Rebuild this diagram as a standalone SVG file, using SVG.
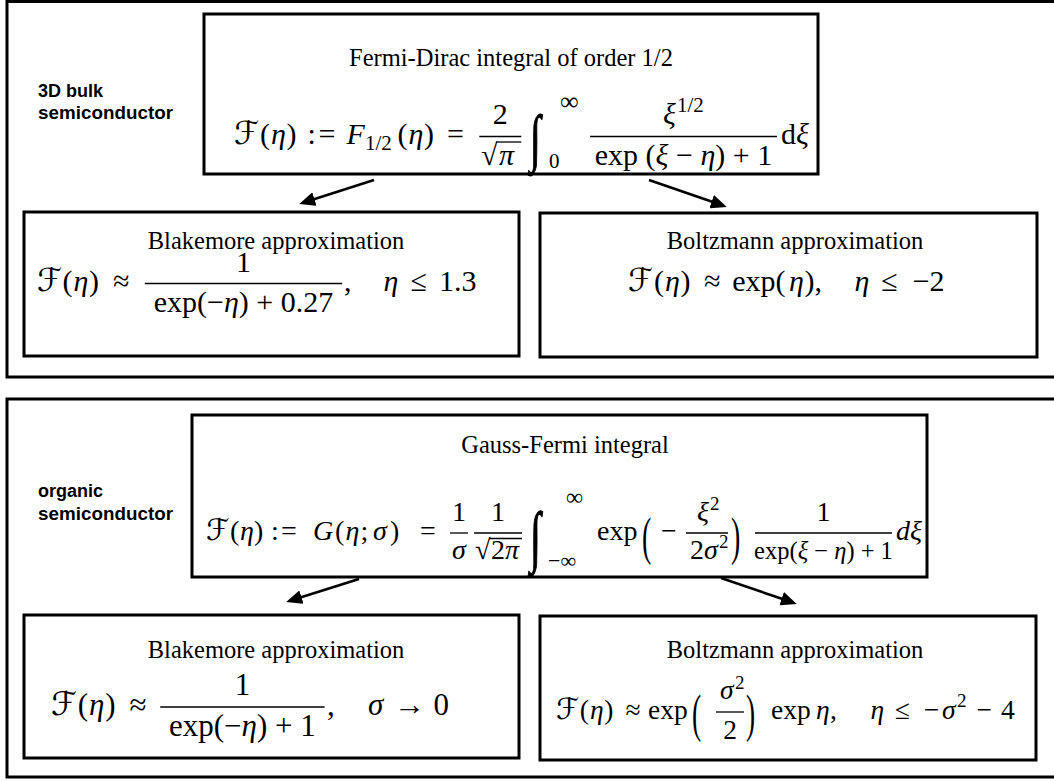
<svg xmlns="http://www.w3.org/2000/svg" width="1054" height="781" viewBox="0 0 1054 781">
<style>
.frame{fill:none;stroke:#000;stroke-width:3}
.box{fill:#fff;stroke:#000;stroke-width:3}
.ttl{font-family:"Liberation Serif","Times New Roman",serif;font-size:24.5px;fill:#000;text-anchor:middle}
.m{font-family:"Liberation Serif","Times New Roman",serif;fill:#000}
.i{font-style:italic}
.c{text-anchor:middle}
.cal{font-family:"DejaVu Sans","DejaVu Serif","Noto Sans",sans-serif;font-style:normal}
.int{font-family:"Liberation Serif","Times New Roman",serif;fill:#000;stroke:#000;stroke-width:0.6}
.lab{font-family:"Liberation Sans",Arial,sans-serif;font-weight:bold;font-size:18px;fill:#000}
.bar{stroke:#000;stroke-width:1.3}
.conn{stroke:#000;stroke-width:2.6;fill:none;marker-end:url(#ah)}
</style>
<defs>
<marker id="ah" viewBox="0 0 16 14" refX="12" refY="7" markerWidth="16" markerHeight="14" markerUnits="userSpaceOnUse" orient="auto"><path d="M0,0 L16,7 L0,14 z" fill="#000"/></marker>
</defs>
<rect width="1054" height="781" fill="#fff"/>

<g id="section-3d-bulk">
<rect class="frame" x="7" y="1.5" width="1060" height="375.5"/>
<text class="lab" x="38" y="97">3D bulk</text>
<text class="lab" x="38" y="119" textLength="135" lengthAdjust="spacingAndGlyphs">semiconductor</text>
</g>

<g id="section-organic">
<rect class="frame" x="7" y="399" width="1060" height="378"/>
<text class="lab" x="38" y="497">organic</text>
<text class="lab" x="38" y="520" textLength="135" lengthAdjust="spacingAndGlyphs">semiconductor</text>
</g>

<g id="fd-integral">
<rect class="box" x="204" y="14" width="614" height="160"/>
<text class="ttl" x="511" y="66">Fermi-Dirac integral of order 1/2</text>
<text class="m" font-size="30" y="144"><tspan class="cal" x="234" font-size="32">ℱ</tspan><tspan x="259.9">(</tspan><tspan class="i" x="271">η</tspan><tspan x="286.5">)</tspan><tspan x="307.5">:</tspan><tspan x="318.5">=</tspan><tspan class="i" x="346.6">F</tspan><tspan x="365" y="150" font-size="21">1/2</tspan><tspan x="397.4" y="144">(</tspan><tspan class="i" x="408.5">η</tspan><tspan x="424">)</tspan><tspan x="447">=</tspan></text>
<text class="m c" font-size="30" x="500.3" y="124">2</text>
<line class="bar" x1="479.3" y1="136.5" x2="521.3" y2="136.5"/>
<text class="m" font-size="30" x="481" y="164.5">√</text>
<line class="bar" x1="496" y1="142" x2="521.3" y2="142"/>
<text class="m i" font-size="30" x="499" y="164.5">π</text>
<text class="int" font-size="30" transform="translate(530,159) scale(1.3,2.1)">∫</text>
<text class="m" font-size="26" x="560" y="110">∞</text>
<text class="m" font-size="21" x="549" y="168">0</text>
<text class="m" font-size="30" y="124"><tspan class="i" x="663">ξ</tspan><tspan x="677" y="112" font-size="21">1/2</tspan></text>
<line class="bar" x1="590" y1="136.5" x2="777" y2="136.5"/>
<text class="m c" font-size="30" x="683.5" y="164.5">exp (<tspan class="i">ξ</tspan> − <tspan class="i">η</tspan>) + 1</text>
<text class="m" font-size="30" x="781" y="144">d<tspan class="i">ξ</tspan></text>
</g>

<g id="fd-blakemore">
<rect class="box" x="24" y="212" width="495" height="144"/>
<text class="ttl" x="276" y="249">Blakemore approximation</text>
<text class="m" font-size="30" y="291"><tspan class="cal" x="37" font-size="32">ℱ</tspan><tspan x="62.4">(</tspan><tspan class="i" x="73.5">η</tspan><tspan x="89">)</tspan><tspan x="113">≈</tspan></text>
<text class="m c" font-size="30" x="243.5" y="272">1</text>
<line class="bar" x1="144.8" y1="283.5" x2="342.2" y2="283.5"/>
<text class="m c" font-size="30" x="243.5" y="311.5">exp(−<tspan class="i">η</tspan>) + 0.27</text>
<text class="m" font-size="30" y="291"><tspan x="344">,</tspan><tspan class="i" x="383.6">η</tspan><tspan x="410.4">≤</tspan><tspan x="439">1.3</tspan></text>
</g>

<g id="fd-boltzmann">
<rect class="box" x="540" y="213" width="497" height="144"/>
<text class="ttl" x="795" y="249">Boltzmann approximation</text>
<text class="m" font-size="30" y="291"><tspan class="cal" x="628" font-size="32">ℱ</tspan><tspan x="653.9">(</tspan><tspan class="i" x="665">η</tspan><tspan x="680.5">)</tspan><tspan x="703.9">≈</tspan><tspan x="732.2">exp(</tspan><tspan class="i" x="789">η</tspan><tspan x="804.6">),</tspan><tspan class="i" x="854.6">η</tspan><tspan x="881.2">≤</tspan><tspan x="912.7">−2</tspan></text>
</g>

<g id="gf-integral">
<rect class="box" x="192" y="415" width="735" height="162"/>
<text class="ttl" x="565" y="453">Gauss-Fermi integral</text>
<text class="m" font-size="28" y="540"><tspan class="cal" x="206" font-size="30">ℱ</tspan><tspan x="230">(</tspan><tspan class="i" x="240">η</tspan><tspan x="254">)</tspan><tspan x="271">:</tspan><tspan x="281">=</tspan><tspan class="i" x="313">G</tspan><tspan x="335">(</tspan><tspan class="i" x="345.5">η</tspan><tspan x="360.5">;</tspan><tspan class="i" x="373">σ</tspan><tspan x="390">)</tspan><tspan x="420">=</tspan></text>
<text class="m c" font-size="28" x="459" y="521">1</text>
<line class="bar" x1="450" y1="533" x2="468" y2="533"/>
<text class="m i c" font-size="28" x="459" y="559">σ</text>
<text class="m c" font-size="28" x="498" y="521">1</text>
<line class="bar" x1="474" y1="533" x2="522" y2="533"/>
<text class="m" font-size="28" x="475" y="559">√</text>
<line class="bar" x1="489" y1="538.5" x2="522" y2="538.5"/>
<text class="m" font-size="28" x="491" y="559">2<tspan class="i">π</tspan></text>
<text class="int" font-size="30" transform="translate(530,559) scale(1.3,2.25)">∫</text>
<text class="m" font-size="24" x="566" y="505">∞</text>
<text class="m" font-size="22" x="548" y="568">−∞</text>
<text class="m" font-size="28" x="597" y="540">exp</text>
<text class="m" font-size="28" transform="translate(642,554) scale(1,1.9)">(</text>
<text class="m" font-size="28" x="661" y="540">−</text>
<text class="m" font-size="28" y="521"><tspan class="i" x="697">ξ</tspan><tspan x="710" y="510" font-size="19">2</tspan></text>
<line class="bar" x1="686" y1="533" x2="728" y2="533"/>
<text class="m" font-size="28" y="559"><tspan x="690">2</tspan><tspan class="i" x="704">σ</tspan><tspan x="719" y="548" font-size="19">2</tspan></text>
<text class="m" font-size="28" transform="translate(731,554) scale(1,1.9)">)</text>
<text class="m c" font-size="28" x="823.5" y="521">1</text>
<line class="bar" x1="755" y1="533" x2="892" y2="533"/>
<text class="m c" font-size="24.5" x="823.5" y="559">exp(<tspan class="i">ξ</tspan> − <tspan class="i">η</tspan>) + 1</text>
<text class="m i" font-size="28" x="896" y="540">dξ</text>
</g>

<g id="gf-blakemore">
<rect class="box" x="24" y="615" width="495" height="143"/>
<text class="ttl" x="276" y="658">Blakemore approximation</text>
<text class="m" font-size="31" y="715"><tspan class="cal" x="51" font-size="33">ℱ</tspan><tspan x="77.7">(</tspan><tspan class="i" x="89">η</tspan><tspan x="105.2">)</tspan><tspan x="129.4">≈</tspan></text>
<text class="m c" font-size="31" x="242.4" y="695">1</text>
<line class="bar" x1="160.2" y1="707" x2="324.6" y2="707"/>
<text class="m c" font-size="31" x="242.4" y="736">exp(−<tspan class="i">η</tspan>) + 1</text>
<text class="m" font-size="31" y="715"><tspan x="327">,</tspan><tspan class="i" x="368">σ</tspan><tspan x="394.3">→</tspan><tspan x="433.6">0</tspan></text>
</g>

<g id="gf-boltzmann">
<rect class="box" x="540" y="616" width="496" height="144"/>
<text class="ttl" x="795" y="658">Boltzmann approximation</text>
<text class="m" font-size="27.5" y="719"><tspan class="cal" x="556" font-size="29.5">ℱ</tspan><tspan x="579.8">(</tspan><tspan class="i" x="590">η</tspan><tspan x="604.2">)</tspan><tspan x="625.6">≈</tspan><tspan x="648">exp</tspan></text>
<text class="m" font-size="27.5" transform="translate(692,731) scale(1,1.9)">(</text>
<text class="m" font-size="27.5" y="699"><tspan class="i" x="720">σ</tspan><tspan x="735" y="689" font-size="19">2</tspan></text>
<line class="bar" x1="716" y1="712" x2="744" y2="712"/>
<text class="m c" font-size="27.5" x="730" y="739">2</text>
<text class="m" font-size="27.5" transform="translate(746,731) scale(1,1.9)">)</text>
<text class="m" font-size="27.5" y="719"><tspan x="771">exp</tspan><tspan class="i" x="816">η</tspan><tspan x="830">,</tspan><tspan class="i" x="870.4">η</tspan><tspan x="894.8">≤</tspan><tspan x="923.7">−</tspan><tspan class="i" x="942.1">σ</tspan><tspan x="957" y="707" font-size="19">2</tspan><tspan x="976.6" y="719">−</tspan><tspan x="1001.1">4</tspan></text>
</g>

<g id="connectors">
<line class="conn" x1="374" y1="180" x2="303" y2="202.7"/>
<line class="conn" x1="649" y1="180" x2="723" y2="205.6"/>
<line class="conn" x1="359" y1="579" x2="290" y2="600.7"/>
<line class="conn" x1="721" y1="578" x2="793" y2="602.6"/>
</g>
</svg>
